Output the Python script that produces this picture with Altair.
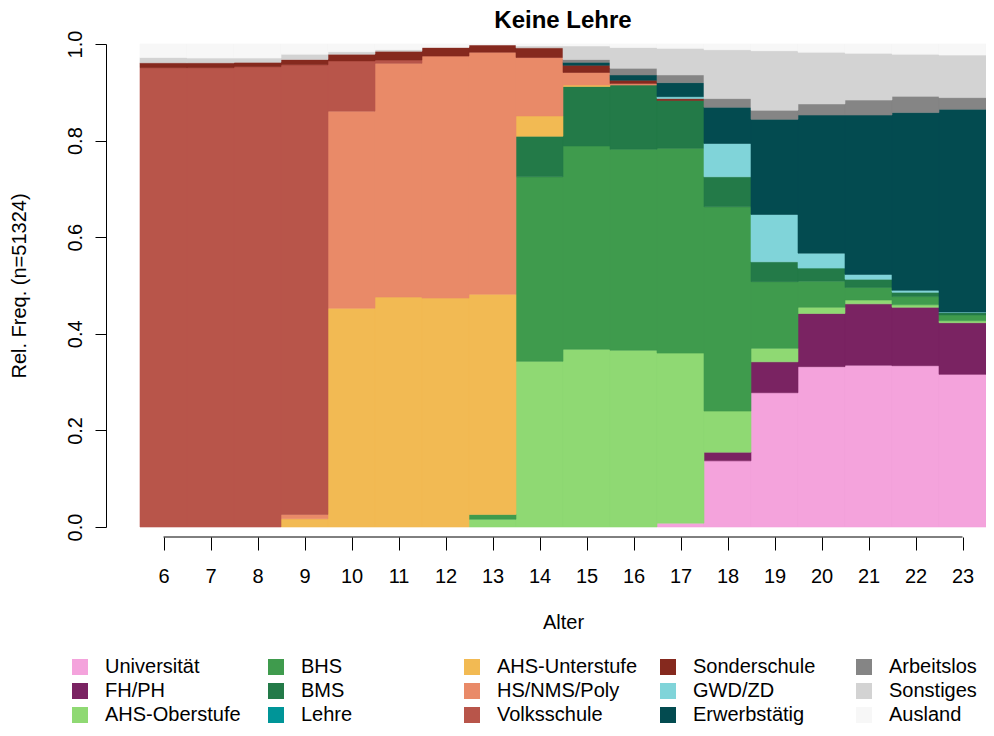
import altair as alt
import pandas as pd

ages = list(range(6, 24))

categories = ["Universität", "FH/PH", "AHS-Oberstufe", "BHS", "BMS", "Lehre",
              "AHS-Unterstufe", "HS/NMS/Poly", "Volksschule", "Sonderschule",
              "GWD/ZD", "Erwerbstätig", "Arbeitslos", "Sonstiges", "Ausland"]

colors = ["#F4A3DC", "#7A2362", "#8FD973", "#3F9B4D", "#237A48", "#009598",
          "#F2BA53", "#E98A68", "#B8554A", "#85291E",
          "#80D4D9", "#034B50", "#858585", "#D3D3D3", "#F7F7F7"]

#                 6      7      8      9      10     11     12     13     14     15     16     17     18     19     20     21     22     23
universitaet  = [0,     0,     0,     0,     0,     0,     0,     0,     0,     0,     0,     0.008, 0.137, 0.278, 0.332, 0.335, 0.334, 0.316]
fh_ph         = [0,     0,     0,     0,     0,     0,     0,     0,     0,     0,     0,     0,     0.018, 0.064, 0.110, 0.127, 0.121, 0.107]
ahs_ober      = [0,     0,     0,     0,     0,     0,     0,     0.016, 0.343, 0.368, 0.366, 0.352, 0.085, 0.028, 0.013, 0.008, 0.005, 0.004]
bhs           = [0,     0,     0,     0,     0,     0,     0,     0.010, 0.382, 0.421, 0.416, 0.424, 0.423, 0.138, 0.054, 0.026, 0.017, 0.012]
bms           = [0,     0,     0,     0,     0,     0,     0,     0,     0.084, 0.123, 0.133, 0.099, 0.062, 0.041, 0.027, 0.017, 0.009, 0.005]
lehre         = [0,     0,     0,     0,     0,     0,     0,     0,     0,     0,     0,     0,     0,     0,     0,     0,     0,     0]
ahs_unter     = [0,     0,     0,     0.017, 0.453, 0.476, 0.474, 0.456, 0.042, 0.003, 0,     0,     0,     0,     0,     0,     0,     0]
hs_nms_poly   = [0,     0,     0,     0.009, 0.408, 0.484, 0.501, 0.501, 0.121, 0.026, 0.003, 0,     0,     0,     0,     0,     0,     0]
volksschule   = [0.951, 0.951, 0.953, 0.931, 0.104, 0.007, 0,     0,     0,     0,     0,     0,     0,     0,     0,     0,     0,     0]
sonderschule  = [0.010, 0.010, 0.009, 0.011, 0.014, 0.018, 0.018, 0.015, 0.020, 0.015, 0.007, 0.004, 0,     0,     0,     0,     0,     0]
gwd_zd        = [0,     0,     0,     0,     0,     0,     0,     0,     0,     0,     0,     0.004, 0.069, 0.098, 0.031, 0.010, 0.004, 0.001]
erwerbstaetig = [0,     0,     0,     0,     0,     0,     0,     0,     0,     0.006, 0.011, 0.029, 0.075, 0.197, 0.286, 0.330, 0.368, 0.420]
arbeitslos    = [0,     0,     0,     0,     0,     0,     0,     0,     0,     0.006, 0.014, 0.016, 0.018, 0.019, 0.023, 0.031, 0.034, 0.024]
sonstiges     = [0.011, 0.010, 0.009, 0.011, 0.005, 0.003, 0,     0,     0.004, 0.028, 0.043, 0.055, 0.101, 0.123, 0.107, 0.097, 0.087, 0.088]
ausland       = [0.028, 0.029, 0.029, 0.021, 0.016, 0.012, 0.007, 0.002, 0.004, 0.004, 0.007, 0.009, 0.012, 0.014, 0.017, 0.019, 0.021, 0.023]

series = [universitaet, fh_ph, ahs_ober, bhs, bms, lehre, ahs_unter, hs_nms_poly,
          volksschule, sonderschule, gwd_zd, erwerbstaetig, arbeitslos, sonstiges, ausland]

x_ticks = ages
y_ticks = [0, 0.2, 0.4, 0.6, 0.8, 1.0]

rows = []
for i, (cat, vals) in enumerate(zip(categories, series)):
    for a, v in zip(ages, vals):
        rows.append({"age": a, "cat": cat, "order": i, "value": v})
df = pd.DataFrame(rows)

# legend filled column-wise (3 rows x 5 columns) -> reorder into row-major
nrow, ncol = 3, 5
legend_order = [categories[c * nrow + r] for r in range(nrow) for c in range(ncol)]
legend_colors = [colors[categories.index(c)] for c in legend_order]

FONT = "Liberation Sans"

x_scale = alt.Scale(domain=[min(ages) - 0.5, max(ages) + 0.5], nice=False, zero=False)
x_axis = alt.Axis(values=x_ticks, domain=False, offset=10, tickSize=13, tickColor="black",
                  labelFontSize=20, labelPadding=16, labelColor="black", grid=False,
                  titleFontSize=20, titleFontWeight="normal", titleColor="black",
                  titlePadding=26, labelFlush=False)

color_scale = alt.Scale(domain=legend_order, range=legend_colors)

bars = alt.Chart(df).transform_filter("datum.value > 0").transform_stack(
    stack="value", groupby=["age"], as_=["y0", "y1"],
    sort=[alt.SortField("order", order="ascending")]
).transform_calculate(
    x0="datum.age - 0.5", x1="datum.age + 0.5"
).mark_rect(strokeWidth=0.6).encode(
    x=alt.X("x0:Q", scale=x_scale, axis=x_axis, title="Alter"),
    x2="x1:Q",
    y=alt.Y("y0:Q", scale=alt.Scale(domain=[0, 1], nice=False, zero=True),
            title="Rel. Freq. (n=51324)",
            axis=alt.Axis(values=y_ticks, format=".1f", offset=34, tickSize=11,
                          tickColor="black", domainColor="black", labelAngle=270,
                          labelAlign="center", labelBaseline="bottom", labelPadding=10,
                          labelFontSize=20, labelColor="black", grid=False,
                          titleFontSize=20, titleFontWeight="normal", titleColor="black",
                          titlePadding=36)),
    y2="y1:Q",
    color=alt.Color("cat:N", scale=color_scale,
                    legend=alt.Legend(title=None, orient="none", legendX=-70, legendY=613,
                                      columns=5, direction="horizontal", symbolType="square",
                                      symbolSize=256, symbolStrokeWidth=0, labelFontSize=20,
                                      labelColor="black", labelOffset=15, columnPadding=20,
                                      rowPadding=4, gridAlign="all", padding=0, labelLimit=300)),
    stroke=alt.Stroke("cat:N", scale=color_scale, legend=None),
)

axis_line_df = pd.DataFrame({"a": [min(x_ticks)], "b": [max(x_ticks)]})
axis_line = alt.Chart(axis_line_df).mark_rule(color="black", strokeWidth=1).encode(
    x=alt.X("a:Q", scale=x_scale, axis=x_axis, title="Alter"),
    x2="b:Q",
    y=alt.value(493),
)

chart = alt.layer(bars, axis_line).properties(
    width=846, height=483,
    title=alt.TitleParams("Keine Lehre", fontSize=24, fontWeight="bold", color="black",
                          anchor="middle", offset=-3, font=FONT),
    autosize=alt.AutoSizeParams(type="none"),
    padding={"left": 132, "top": 36, "right": 0, "bottom": 201},
    background="white",
).configure_view(stroke=None).configure_axis(
    labelFont=FONT, titleFont=FONT
).configure_legend(labelFont=FONT)

chart.save("out.html", embed_options={"renderer": "svg", "actions": False})
